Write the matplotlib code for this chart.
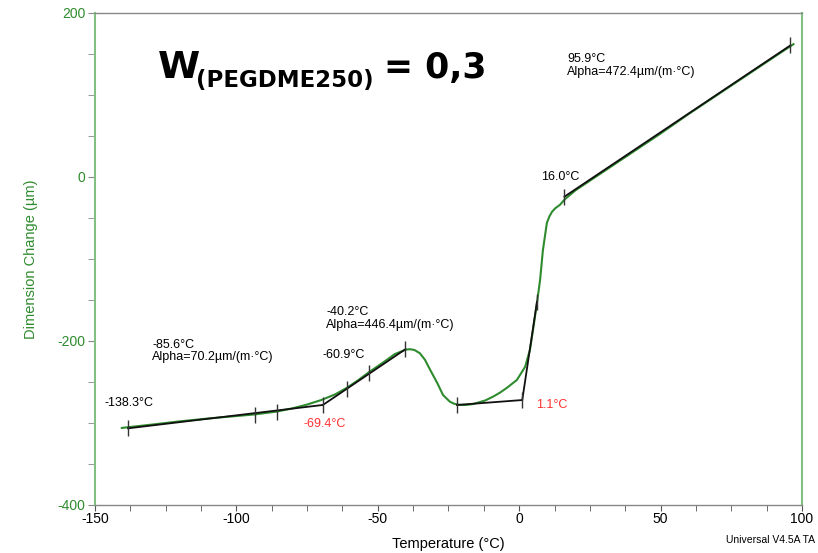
import numpy as np
import matplotlib.pyplot as plt
from matplotlib.ticker import MultipleLocator

plt.rcParams['font.family'] = ['Liberation Sans', 'DejaVu Sans']
plt.rcParams['axes.unicode_minus'] = False

# measured curve (temperature in degC, dimension change in um)
temp = [-140.5, -130, -120, -110, -100, -93.4, -85.6, -80, -75, -70, -65,
        -60.9, -57, -53.1, -48, -44, -41.5, -40, -38.6, -37, -35.1, -33.3,
        -31.5, -29, -26.9, -24.5, -23, -21, -19, -16.5, -14.9, -12, -9.3,
        -6.8, -4.3, -0.8, 2.1, 3.8, 4.9, 6.3, 7.4, 8.4, 9.8, 10.7, 11.6,
        12.8, 14.4, 16.2, 20, 30, 40, 50, 60, 70, 80, 90, 97]
dim = [-306, -302, -298, -294.5, -291.5, -289.5, -286, -282, -277.5, -272,
       -265, -257, -248, -238, -226, -216, -212.5, -210.5, -210, -211,
       -215, -223, -235, -251, -266, -274, -276.5, -278, -278, -277,
       -275.5, -272.5, -268, -263, -257, -247.5, -231.5, -211, -186.5,
       -153.5, -125.5, -89, -56, -48, -42.5, -38, -34, -27, -16, 7, 30,
       53, 77, 100, 123, 146, 162]

# tangent constructions from the analysis software
tan1_t = [-138.3, -69.4]
tan1_d = [-306.5, -278]
tan2_t = [-69.4, -40.2]
tan2_d = [-278, -210]
tan3_t = [-22, 1.1, 6.3]
tan3_d = [-278, -272, -152]
tan4_t = [16.0, 95.9]
tan4_d = [-24, 160.5]

mark_t = [-138.3, -93.4, -85.6, -69.4, -60.9, -53.1, -40.2, -22, 1.1, 6.3, 16.0, 95.9]
mark_d = [-306.5, -290, -286.5, -278, -258, -239, -210, -278, -272, -152, -24, 160.5]

green = '#2e8b2e'
lgreen = '#80c080'

fig = plt.figure(figsize=(8.18, 5.53), dpi=100)
ax = fig.add_axes([0.1161, 0.0868, 0.8643, 0.8897])

ax.plot(temp, dim, color=green, lw=1.5, zorder=2)
for t, d in [(tan1_t, tan1_d), (tan2_t, tan2_d), (tan3_t, tan3_d), (tan4_t, tan4_d)]:
    ax.plot(t, d, color='#111111', lw=1.3, zorder=3)
ax.plot(mark_t, mark_d, ls='none', marker='|', ms=12, mew=1.0, color='#333333', zorder=4)

ax.set_xlim(-150, 100)
ax.set_ylim(-400, 200)
ax.xaxis.set_major_locator(MultipleLocator(50))
ax.xaxis.set_minor_locator(MultipleLocator(12.5))
ax.yaxis.set_major_locator(MultipleLocator(200))
ax.yaxis.set_minor_locator(MultipleLocator(50))
ax.tick_params(axis='x', which='both', direction='out', colors='#555555',
               labelcolor='black', labelsize=10, length=4, pad=1)
ax.tick_params(axis='y', which='both', direction='out', colors='#888888',
               labelcolor=green, labelsize=10, length=5, pad=2)
for s in ['left', 'right']:
    ax.spines[s].set_color(lgreen)
    ax.spines[s].set_linewidth(1.5)
for s in ['top', 'bottom']:
    ax.spines[s].set_color('#888888')
    ax.spines[s].set_linewidth(1.0)

ax.set_xlabel('Temperature (°C)', fontsize=10.5, labelpad=8)
ax.set_ylabel('Dimension Change (µm)', fontsize=10.5, color=green, labelpad=14)

fs = 9
ax.text(-146.8, -275.6, '-138.3°C', fontsize=fs, va='center')
ax.text(-129.8, -197, '-85.6°C\nAlpha=70.2µm/(m·°C)', fontsize=fs, va='top', linespacing=1.1)
ax.text(-69.7, -217, '-60.9°C', fontsize=fs, va='center')
ax.text(-76.4, -301, '-69.4°C', fontsize=fs, va='center', color='#ff3030')
ax.text(-68.3, -157, '-40.2°C\nAlpha=446.4µm/(m·°C)', fontsize=fs, va='top', linespacing=1.1)
ax.text(5.9, -278, '1.1°C', fontsize=fs, va='center', color='#ff3030')
ax.text(7.7, 0, '16.0°C', fontsize=fs, va='center')
ax.text(16.9, 151, '95.9°C\nAlpha=472.4µm/(m·°C)', fontsize=fs, va='top', linespacing=1.1)

fig.text(158 / 818, 1 - 78 / 553, 'W', fontsize=27.5, fontweight='bold',
         family='DejaVu Sans', va='baseline')
fig.text(196 / 818, 1 - 87 / 553, '(PEGDME250)', fontsize=16.5, fontweight='bold',
         family='DejaVu Sans', va='baseline')
fig.text(384 / 818, 1 - 78 / 553, '= 0,3', fontsize=25, fontweight='bold',
         family='DejaVu Sans', va='baseline')

fig.text(815 / 818, 1 - 540 / 553, 'Universal V4.5A TA', fontsize=7.5,
         ha='right', va='center')

fig.savefig('out.png', dpi=100)
